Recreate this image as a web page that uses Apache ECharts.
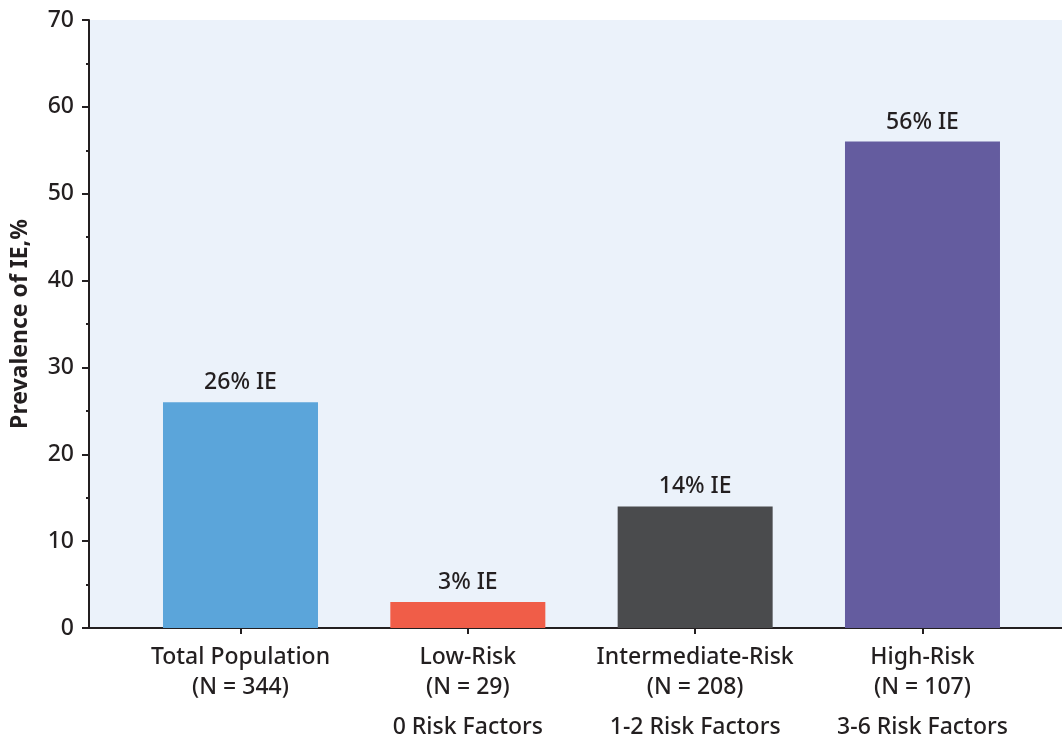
<!DOCTYPE html>
<html>
<head>
<meta charset="utf-8">
<script src="https://cdn.jsdelivr.net/npm/echarts@6/dist/echarts.min.js"></script>
<style>
  html, body { margin: 0; padding: 0; background: #ffffff; }
  #chart { width: 1062px; height: 738px; }
</style>
</head>
<body>
<div id="chart"></div>
<script>
// Groups, sample sizes and risk-factor bands
const categories = ['Total Population', 'Low-Risk', 'Intermediate-Risk', 'High-Risk'];
const sampleSizes = [344, 29, 208, 107];
const riskFactors = ['', '0 Risk Factors', '1-2 Risk Factors', '3-6 Risk Factors'];
// Prevalence of infective endocarditis (%) per group
const prevalence = [26, 3, 14, 56];
// Y-axis ticks
const yTicks = [0, 10, 20, 30, 40, 50, 60, 70];

const palette = ['#5BA5DA', '#F05D48', '#4A4B4D', '#645C9F'];
const ink = '#231F20';
const font = 'Noto Sans';
const weight = 500;

const chart = echarts.init(document.getElementById('chart'), null, { renderer: 'canvas' });

const positions = categories.map((_, i) => i);

chart.setOption({
  animation: false,
  textStyle: { fontFamily: font, color: ink },
  grid: {
    left: 89, right: 0, top: 20, bottom: 110,
    outerBoundsMode: 'none',
    containLabel: false,
    show: true, backgroundColor: '#EBF2FA', borderWidth: 0
  },
  xAxis: {
    type: 'value',
    min: -0.6664,
    max: 3.6137,
    splitLine: { show: false },
    axisLine: { show: true, onZero: false, lineStyle: { color: ink, width: 2 } },
    axisTick: { show: true, customValues: positions, length: 6, lineStyle: { color: ink, width: 2 } },
    axisLabel: {
      customValues: positions,
      margin: 14,
      formatter: v => {
        const i = Math.round(v);
        return '{a|' + categories[i] + '}\n{a|(N = ' + sampleSizes[i] + ')}\n{b|' + riskFactors[i] + '}';
      },
      rich: {
        a: { fontFamily: font, fontSize: 23, fontWeight: weight, lineHeight: 30, color: ink, align: 'center' },
        b: { fontFamily: font, fontSize: 23, fontWeight: weight, lineHeight: 50, color: ink, align: 'center' }
      }
    }
  },
  yAxis: {
    type: 'value',
    min: yTicks[0],
    max: yTicks[yTicks.length - 1],
    interval: 10,
    name: 'Prevalence of IE,%',
    nameLocation: 'middle',
    nameRotate: 90,
    nameGap: 57,
    nameTextStyle: { fontFamily: font, fontSize: 23, fontWeight: 'bold', color: ink },
    splitLine: { show: false },
    axisLine: { show: true, onZero: false, lineStyle: { color: ink, width: 2 } },
    axisTick: { show: true, length: 7, lineStyle: { color: ink, width: 2 } },
    minorTick: { show: true, splitNumber: 2, length: 3, lineStyle: { color: ink, width: 2 } },
    axisLabel: { fontFamily: font, fontSize: 23, fontWeight: weight, color: ink, margin: 15 }
  },
  series: [{
    type: 'bar',
    barWidth: 155,
    data: prevalence.map((v, i) => ({ value: [i, v], itemStyle: { color: palette[i] } })),
    label: {
      show: true,
      position: 'top',
      distance: 8,
      fontFamily: font,
      fontSize: 23,
      fontWeight: weight,
      color: ink,
      formatter: p => p.value[1] + '% IE'
    }
  }]
});
</script>
</body>
</html>
